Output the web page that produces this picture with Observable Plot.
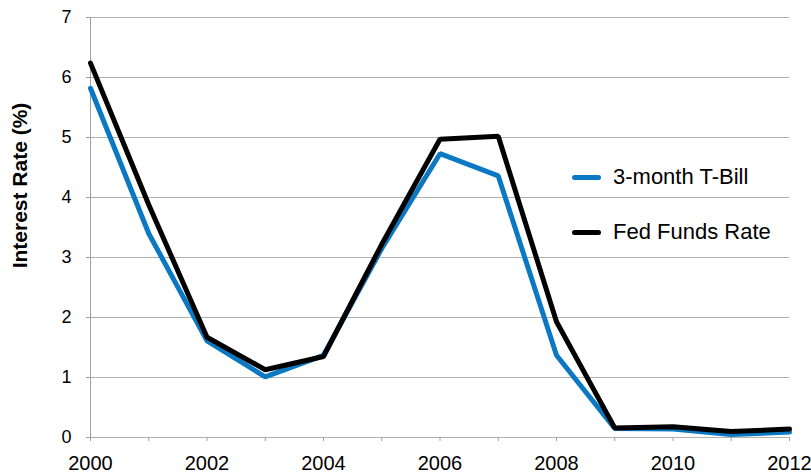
<!DOCTYPE html>
<html>
<head>
<meta charset="utf-8">
<script src="https://cdn.jsdelivr.net/npm/d3@7"></script>
<script src="https://cdn.jsdelivr.net/npm/@observablehq/plot@0.6"></script>
<style>
  html, body { margin: 0; padding: 0; background: #fff; }
  #wrap { position: relative; width: 811px; height: 473px; font-family: "Liberation Sans", Arial, sans-serif; }
  .leg { position: absolute; left: 572px; display: flex; align-items: center; font-size: 22px; color: #000; }
  .sw { width: 29px; height: 5px; border-radius: 3px; margin-right: 12px; }
</style>
</head>
<body>
<div id="wrap"></div>
<script>
const years = [2000, 2001, 2002, 2003, 2004, 2005, 2006, 2007, 2008, 2009, 2010, 2011, 2012];
const tBill = [5.82, 3.40, 1.61, 1.01, 1.37, 3.15, 4.73, 4.36, 1.37, 0.15, 0.14, 0.05, 0.09];
const fedFunds = [6.24, 3.88, 1.67, 1.13, 1.35, 3.22, 4.97, 5.02, 1.93, 0.16, 0.18, 0.10, 0.14];
const yTicks = [0, 1, 2, 3, 4, 5, 6, 7];
const seriesNames = ["3-month T-Bill", "Fed Funds Rate"];
const seriesColors = ["#0a78c2", "#000000"];
const yLabel = "Interest Rate (%)";

const rows = [];
years.forEach((yr, i) => {
  rows.push({year: yr, value: tBill[i], series: seriesNames[0]});
  rows.push({year: yr, value: fedFunds[i], series: seriesNames[1]});
});

const plot = Plot.plot({
  width: 811,
  height: 473,
  marginLeft: 90,
  marginRight: 22,
  marginTop: 17,
  marginBottom: 36,
  style: {fontFamily: "'Liberation Sans', Arial, sans-serif", color: "#000", background: "#fff"},
  x: {domain: [2000, 2012]},
  y: {domain: [0, 7]},
  marks: [
    Plot.gridY(yTicks, {stroke: "#b0b0b0", strokeOpacity: 1, strokeWidth: 1}),
    Plot.ruleX([2000], {stroke: "#a0a0a0", strokeWidth: 1}),
    Plot.axisY(yTicks, {
      tickSize: 4, tickPadding: 15, stroke: "#a0a0a0", fontSize: 18, label: null,
      tickFormat: d => String(d)
    }),
    Plot.axisX(years, {
      tickSize: 4, tickPadding: 14, stroke: "#a0a0a0", fontSize: 20, label: null,
      tickFormat: d => (d % 2 ? "" : String(d))
    }),
    Plot.text([yLabel], {
      frameAnchor: "left", textAnchor: "middle", rotate: -90, dx: -70, dy: -42,
      fontWeight: "bold", fontSize: 21, fill: "#000"
    }),
    Plot.line(rows.filter(r => r.series === seriesNames[0]), {
      x: "year", y: "value", stroke: seriesColors[0], strokeWidth: 5, strokeLinejoin: "miter", curve: "linear"
    }),
    Plot.line(rows.filter(r => r.series === seriesNames[1]), {
      x: "year", y: "value", stroke: seriesColors[1], strokeWidth: 5, strokeLinejoin: "miter", curve: "linear"
    })
  ]
});

const wrap = document.getElementById("wrap");
wrap.appendChild(plot);
const legendTops = [177, 232];
seriesNames.forEach((name, i) => {
  const d = document.createElement("div");
  d.className = "leg";
  d.style.top = (legendTops[i] - 13) + "px";
  d.style.height = "26px";
  d.innerHTML = `<div class="sw" style="background:${seriesColors[i]}"></div><span>${name}</span>`;
  wrap.appendChild(d);
});
</script>
</body>
</html>
